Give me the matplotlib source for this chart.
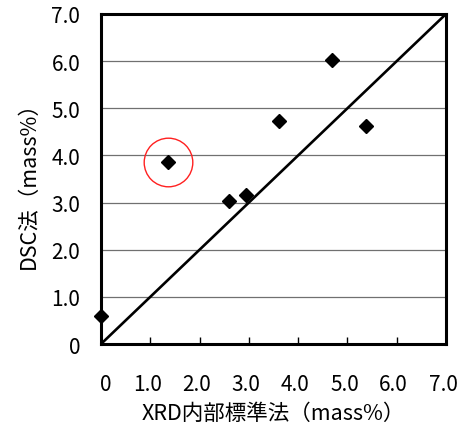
import numpy as np
import matplotlib
matplotlib.use('Agg')
import matplotlib.pyplot as plt
from matplotlib.transforms import ScaledTranslation

plt.rcParams['font.family'] = ['Noto Sans CJK JP', 'DejaVu Sans']

# data
xrd = [0.0, 1.36, 2.6, 2.95, 3.61, 4.69, 5.37]
dsc = [0.6, 3.86, 3.04, 3.17, 4.73, 6.02, 4.63]
marked = (1.36, 3.86)
ticks = [0, 1, 2, 3, 4, 5, 6, 7]
tick_labels = ['0', '1.0', '2.0', '3.0', '4.0', '5.0', '6.0', '7.0']

fig = plt.figure(figsize=(4.6, 4.35), dpi=100)
ax = fig.add_axes([101/460, 1-345/435, 345/460, 330/435])

ax.set_xlim(0, 7)
ax.set_ylim(0, 7)

for v in ticks[1:-1]:
    ax.axhline(v, color='#707070', lw=0.9, zorder=1)

ax.plot([0, 7], [0, 7], color='black', lw=1.9, zorder=2)
ax.plot(xrd, dsc, 'D', color='black', ms=7, clip_on=False, zorder=3)
ax.plot(*marked, 'o', ms=35, mfc='none', mec='#ff2020', mew=1.0, zorder=4)

ax.set_xticks(ticks)
ax.set_xticklabels(tick_labels)
ax.set_yticks(ticks)
ax.set_yticklabels(tick_labels)
ax.tick_params(axis='x', direction='in', length=5, width=1, pad=21, labelsize=15)
ax.tick_params(axis='y', length=0, pad=15, labelsize=15)

# labels sit a little left of their ticks in the original, except "0"
for i, lab in enumerate(ax.get_xticklabels()):
    dx = 5 if i == 0 else -3
    lab.set_transform(lab.get_transform() + ScaledTranslation(dx/100, 0, fig.dpi_scale_trans))

ax.set_xlabel('XRD内部標準法（mass%）', fontsize=15.5, labelpad=5)
ax.set_ylabel('DSC法（mass%）', fontsize=15.5, labelpad=8)

for s in ax.spines.values():
    s.set_linewidth(2.2)

fig.savefig('out.png', dpi=100)
